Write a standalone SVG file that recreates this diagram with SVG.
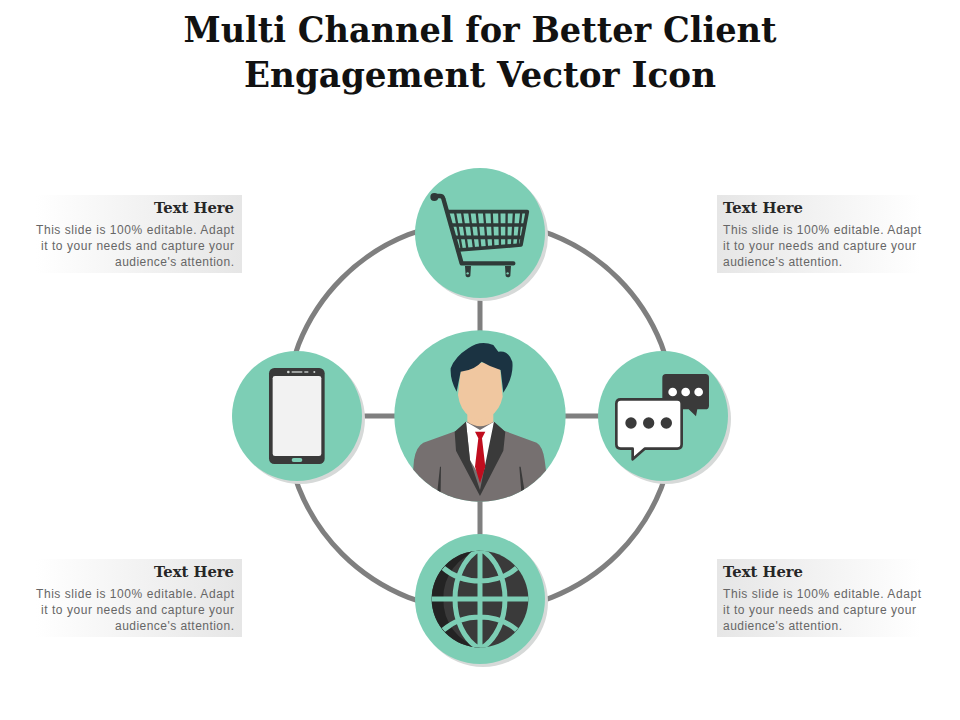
<svg xmlns="http://www.w3.org/2000/svg" width="960" height="720" viewBox="0 0 960 720">
<style>
.title{font-family:"DejaVu Serif","Liberation Serif",serif;font-weight:700;font-size:36px;fill:#111;text-anchor:middle}
.h{font-family:"DejaVu Serif","Liberation Serif",serif;font-weight:700;font-size:14px;fill:#262626}
.b{font-family:"Liberation Sans",Arial,sans-serif;font-size:12px;fill:#666}
.r{text-anchor:end}
.disc{fill:#7dceb5}
.shadow{fill:#d6d9d8}
.wire{fill:none;stroke:#7f7f7f;stroke-width:5}
.dk{fill:#3a3a3a}
.cart{fill:none;stroke:#2f3a38;stroke-linecap:round;stroke-linejoin:round}
.gl{fill:none;stroke:#7dceb5;stroke-width:15}
</style>
<defs>
<linearGradient id="gl" x1="0" x2="1" y1="0" y2="0"><stop offset="0" stop-color="#fff"/><stop offset="1" stop-color="#e6e6e6"/></linearGradient>
<linearGradient id="gr" x1="0" x2="1" y1="0" y2="0"><stop offset="0" stop-color="#e6e6e6"/><stop offset="1" stop-color="#fff"/></linearGradient>
<clipPath id="cc"><circle cx="270" cy="288" r="257"/></clipPath>
<clipPath id="gc"><circle cx="210" cy="213" r="145"/></clipPath>
</defs>
<rect width="960" height="720" fill="#fff"/>
<text class="title" x="480" y="42" textLength="593" lengthAdjust="spacingAndGlyphs">Multi Channel for Better Client</text>
<text class="title" x="480" y="87" textLength="472" lengthAdjust="spacingAndGlyphs">Engagement Vector Icon</text>

<g id="connectors">
<circle class="wire" cx="480" cy="416" r="195"/>
<path class="wire" d="M480 290V540M350 416H610"/>
</g>

<g id="node-top">
<circle class="shadow" cx="483" cy="236" r="65"/><circle class="disc" cx="480" cy="233" r="65"/>
<g transform="translate(410 160) scale(.3333)">
<path class="cart" stroke-width="13" d="M72 108H90Q98 108 100 116L155 310H310"/>
<circle cx="73" cy="111" r="12" fill="#2f3a38"/>
<path class="cart" stroke-width="11" d="M113 155H352L333 255L147 270M122 195H343M132 232H336"/>
<path class="cart" stroke-width="7" d="M135 156L155 268M156 156L172 266M178 156L192 265M200 156L211 264M222 156L231 262M245 156L250 261M268 156L270 260M290 156L289 258M312 156L306 257M334 156L323 256"/>
<path fill="#2f3a38" d="M165 318h18l-2 30a8 8 0 0 1-14 0zM285 318h18l-2 30a8 8 0 0 1-14 0z"/>
<circle cx="173" cy="340" r="3.500" fill="#7dceb5"/><circle cx="293" cy="340" r="3.500" fill="#7dceb5"/>
</g>
</g>

<g id="node-bottom">
<circle class="shadow" cx="483" cy="602" r="65"/><circle class="disc" cx="480" cy="599" r="65"/>
<g transform="translate(410 528) scale(.3333)">
<circle class="dk" cx="210" cy="213" r="145"/>
<path fill="#232323" d="M210 68A145 145 0 0 0 210 358A140 145 0 0 1 100 213A140 145 0 0 1 210 68Z"/>
<g clip-path="url(#gc)">
<path class="gl" d="M60 213H360M210 60V366M210 62C110 120 110 306 210 364M210 62C310 120 310 306 210 364M100 120C160 172 260 172 320 120M100 306C160 254 260 254 320 306"/>
</g>
</g>
</g>

<g id="node-right">
<circle class="shadow" cx="666" cy="419" r="65"/><circle class="disc" cx="663" cy="416" r="65"/>
<g transform="translate(590 345) scale(.3333)">
<path class="dk" d="M228 87H346Q357 87 357 98V182Q357 193 346 193H322L318 214L296 193H217V98Q217 87 228 87Z"/>
<circle cx="248" cy="141" r="13" fill="#fff"/><circle cx="287" cy="141" r="13" fill="#fff"/><circle cx="326" cy="141" r="13" fill="#fff"/>
<path fill="#fff" stroke="#3a3a3a" stroke-width="8" stroke-linejoin="round" d="M92 163H262Q275 163 275 176V298Q275 311 262 311H164L128 343V311H92Q79 311 79 298V176Q79 163 92 163Z"/>
<circle cx="123" cy="234" r="17" class="dk"/><circle cx="176" cy="234" r="17" class="dk"/><circle cx="229" cy="234" r="17" class="dk"/>
</g>
</g>

<g id="node-left">
<circle class="shadow" cx="300" cy="419" r="65"/><circle class="disc" cx="297" cy="416" r="65"/>
<g transform="translate(225 345) scale(.3333)">
<rect class="dk" x="132" y="69" width="167" height="288" rx="16"/>
<rect x="143" y="93" width="146" height="240" rx="7" fill="#f2f2f2"/>
<circle cx="190" cy="81" r="4" fill="#cfd4d2"/><rect x="200" y="79" width="32" height="4" fill="#cfd4d2"/><rect x="238" y="79" width="12" height="4" fill="#cfd4d2"/><circle cx="268" cy="81" r="3" fill="#cfd4d2"/>
<rect x="200" y="339" width="32" height="12" rx="6" fill="#7dceb5"/>
</g>
</g>

<g id="node-center">
<g transform="translate(390 320) scale(.3333)">
<circle class="disc" cx="270" cy="288" r="257"/>
<g clip-path="url(#cc)">
<path fill="#767070" d="M60 560L72 420Q78 380 100 368L200 332L228 305H312L342 332L440 368Q458 378 464 420L482 560Z"/>
<path fill="#3a3a3a" d="M142 515L150 440L153 440L152 515ZM388 440L392 440L404 515L394 515Z"/>
</g>
<path fill="#fff" d="M228 305L270 330L312 305L300 420L270 470L240 420Z"/>
<path fill="#f0c7a0" d="M232 280H310V305Q270 332 232 305Z"/>
<path fill="#3a3a3a" d="M228 305L194 335L198 392L270 528L340 392L346 335L312 305L270 510L240 420Z"/>
<path fill="#c00d1e" d="M255 335H286L276 355L286 440L270 490L255 440L265 355Z"/>
<path fill="#f0c7a0" d="M212 150Q270 110 330 140L338 230Q330 270 300 290Q270 305 240 290Q210 270 204 225Z"/>
<path fill="#1b3342" d="M200 215Q180 180 182 145Q195 110 235 85Q270 60 310 75L325 95Q355 90 367 125Q372 170 340 218L332 150Q300 140 275 125Q255 150 212 155Z"/>
</g>
</g>

<g id="text-top-left">
<rect x="36" y="195" width="206" height="78" fill="url(#gl)"/>
<text class="h r" x="234" y="213" textLength="80" lengthAdjust="spacingAndGlyphs">Text Here</text>
<text class="b r" x="234" y="233.500" textLength="198">This slide is 100% editable. Adapt</text>
<text class="b r" x="234" y="249.500" textLength="193">it to your needs and capture your</text>
<text class="b r" x="234" y="265.500" textLength="119">audience's attention.</text>
</g>
<g id="text-top-right">
<rect x="717" y="195" width="204" height="78" fill="url(#gr)"/>
<text class="h" x="723" y="213" textLength="80" lengthAdjust="spacingAndGlyphs">Text Here</text>
<text class="b" x="723" y="233.500" textLength="198">This slide is 100% editable. Adapt</text>
<text class="b" x="723" y="249.500" textLength="193">it to your needs and capture your</text>
<text class="b" x="723" y="265.500" textLength="119">audience's attention.</text>
</g>
<g id="text-bottom-left">
<rect x="36" y="559" width="206" height="78" fill="url(#gl)"/>
<text class="h r" x="234" y="577" textLength="80" lengthAdjust="spacingAndGlyphs">Text Here</text>
<text class="b r" x="234" y="597.500" textLength="198">This slide is 100% editable. Adapt</text>
<text class="b r" x="234" y="613.500" textLength="193">it to your needs and capture your</text>
<text class="b r" x="234" y="629.500" textLength="119">audience's attention.</text>
</g>
<g id="text-bottom-right">
<rect x="717" y="559" width="204" height="78" fill="url(#gr)"/>
<text class="h" x="723" y="577" textLength="80" lengthAdjust="spacingAndGlyphs">Text Here</text>
<text class="b" x="723" y="597.500" textLength="198">This slide is 100% editable. Adapt</text>
<text class="b" x="723" y="613.500" textLength="193">it to your needs and capture your</text>
<text class="b" x="723" y="629.500" textLength="119">audience's attention.</text>
</g>
</svg>
